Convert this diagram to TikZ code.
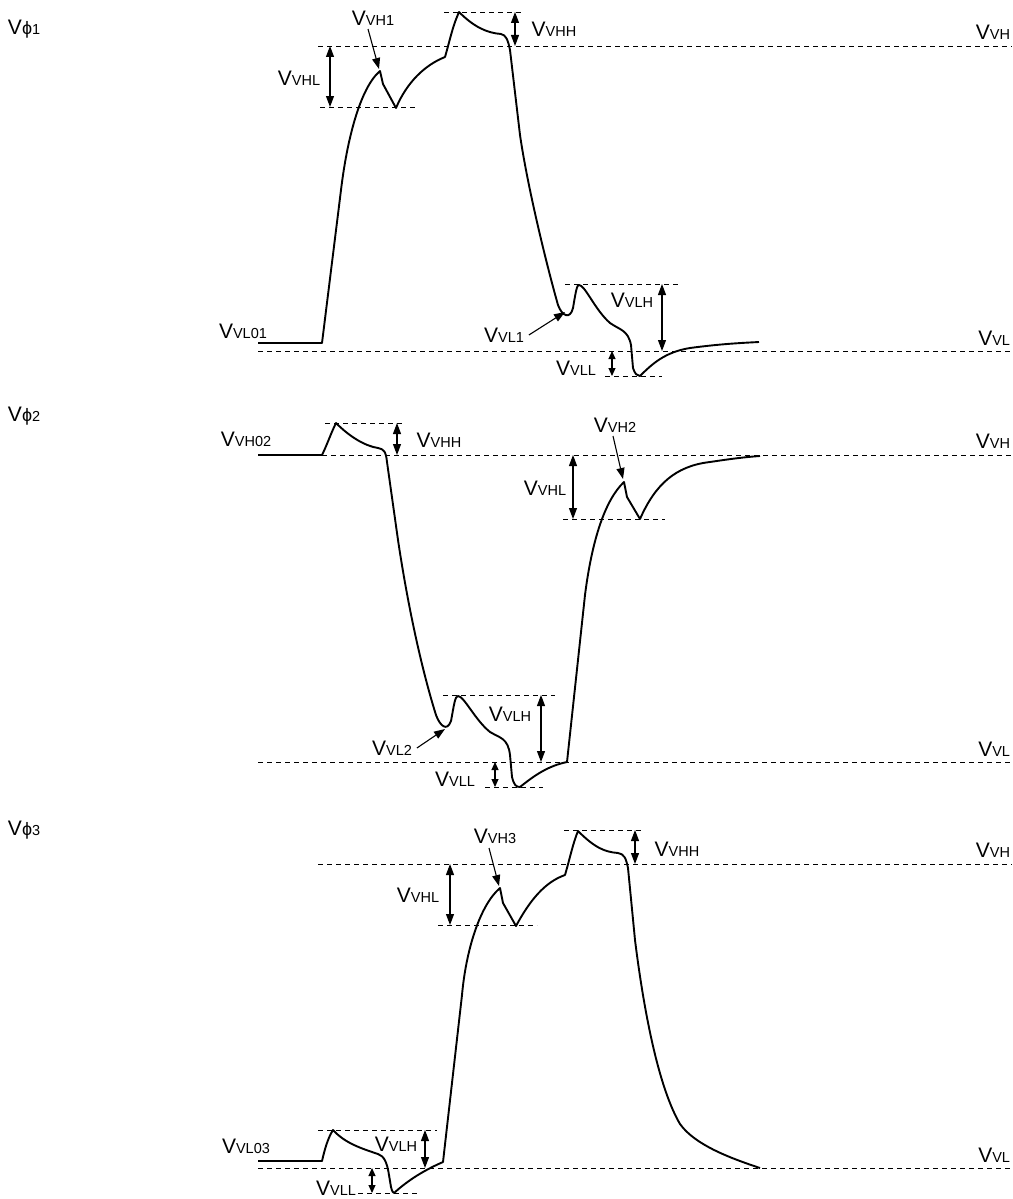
\documentclass[tikz,border=0pt]{standalone}
\usepackage{fontspec}
\setmainfont{Liberation Sans}
\usetikzlibrary{arrows.meta}
\newcommand{\vlab}[1]{{\fontsize{21}{21}\selectfont V}{\fontsize{14.5}{14.5}\selectfont #1}}
\newcommand{\vphi}[1]{{\fontsize{21}{21}\selectfont V}{\fontsize{18}{18}\selectfont ϕ}{\fontsize{14.5}{14.5}\selectfont #1}}

\begin{document}
\begin{tikzpicture}
[x=1pt,y=-1pt,%
  every node/.style={inner sep=0pt,outer sep=0pt},%
  wave/.style={line width=1.9pt,line join=round},%
  level/.style={line width=0.8pt,dash pattern=on 5pt off 4pt},%
  dim/.style={line width=1.1pt,{Triangle[length=11pt,width=8pt]}-{Triangle[length=11pt,width=8pt]}},%
  dimshort/.style={line width=1.1pt,{Triangle[length=8pt,width=7pt]}-{Triangle[length=8pt,width=7pt]}},%
  ptr/.style={line width=1.1pt,-{Triangle[length=11pt,width=8pt]}}]
\useasboundingbox (0,0) rectangle (1012,1199);

\node[anchor=west] (phi1) at (8,29) {\vphi{1}};
\draw[level] (318,46) -- (1012,46);
\draw[level] (444,12) -- (524,12);
\draw[level] (320,107) -- (417,107);
\draw[level] (258,351) -- (1012,351);
\draw[level] (565,284) -- (678,284);
\draw[level] (605,376) -- (662,376);
\draw[wave] (258,343) -- (322,343) -- (341,190)
  .. controls (347,140) and (360,88) .. (380,71) coordinate (pk1)
  -- (383,84) -- (396,108)
  .. controls (407,82) and (425,65) .. (445,57)
  .. controls (450,40) and (452,28) .. (459,12)
  .. controls (475,28) and (488,33) .. (501,34)
  .. controls (506,35) and (508,40) .. (510,50)
  -- (520,135) .. controls (528,190) and (548,270) .. (558,305)
  .. controls (562,316) and (570,320) .. (573,308) coordinate (vl1)
  .. controls (576,290) and (577,285) .. (579,285)
  .. controls (585,285) and (595,310) .. (610,323)
  .. controls (620,330) and (628,330) .. (631,345)
  -- (633,368) .. controls (635,374) and (637,376) .. (640,376)
  .. controls (652,364) and (665,352) .. (690,348)
  .. controls (720,344) and (740,343) .. (759,342);
\draw[dim] (330,46) -- (330,107);
\draw[dim] (515,12) -- (515,46);
\draw[dim] (662,284) -- (662,351);
\draw[dimshort] (612,351) -- (612,376);
\node (vhl1) at (299,78) {\vlab{VHL}};
\node (vh1) at (373,18) {\vlab{VH1}};
\node (vhh1) at (554,29) {\vlab{VHH}};
\node[anchor=east] (vh1r) at (1010,32) {\vlab{VH}};
\node (vl01) at (243,331) {\vlab{VL01}};
\node (vl1l) at (504,335) {\vlab{VL1}};
\node (vlh1) at (632,300) {\vlab{VLH}};
\node (vll1) at (576,368) {\vlab{VLL}};
\node[anchor=east] (vl1r) at (1010,338) {\vlab{VL}};
\draw[ptr] (368,29) -- ([xshift=-1pt,yshift=2pt]pk1);
\draw[ptr] ([xshift=5pt]vl1l.east) -- ([xshift=-8pt,yshift=-4pt]vl1);

\node[anchor=west] (phi2) at (8,416) {\vphi{2}};
\draw[level] (325,423) -- (403,423);
\draw[level] (322,455) -- (1012,455);
\draw[level] (563,519) -- (665,519);
\draw[level] (443,695) -- (555,695);
\draw[level] (258,762) -- (1012,762);
\draw[level] (485,787) -- (543,787);
\draw[wave] (258,455) -- (322,455) .. controls (327,445) and (331,433) .. (336,423)
  .. controls (350,437) and (365,446) .. (378,448)
  .. controls (384,449) and (386,452) .. (387,462)
  -- (398,540) .. controls (410,620) and (425,680) .. (436,715)
  .. controls (440,726) and (447,732) .. (451,721) coordinate (vl2)
  .. controls (454,705) and (455,696) .. (458,696)
  .. controls (464,696) and (475,720) .. (490,732)
  .. controls (500,738) and (508,738) .. (510,755)
  -- (512,777) .. controls (514,785) and (516,787) .. (520,787)
  .. controls (535,775) and (548,766) .. (567,762)
  -- (585,595) .. controls (592,540) and (605,500) .. (624,482) coordinate (pk2)
  -- (627,497) -- (640,519)
  .. controls (655,485) and (675,466) .. (710,462)
  .. controls (730,459) and (745,457) .. (760,456);
\draw[dim] (397,423) -- (397,455);
\draw[dim] (573,455) -- (573,519);
\draw[dim] (541,695) -- (541,762);
\draw[dimshort] (495,762) -- (495,787);
\node (vh02) at (246,439) {\vlab{VH02}};
\node (vhh2) at (439,440) {\vlab{VHH}};
\node (vh2) at (615,425) {\vlab{VH2}};
\node[anchor=east] (vh2r) at (1010,441) {\vlab{VH}};
\node (vhl2) at (545,488) {\vlab{VHL}};
\node (vlh2) at (510,714) {\vlab{VLH}};
\node (vl2l) at (392,748) {\vlab{VL2}};
\node (vll2) at (455,779) {\vlab{VLL}};
\node[anchor=east] (vl2r) at (1010,749) {\vlab{VL}};
\draw[ptr] (613,436) -- ([xshift=-1pt,yshift=3pt]pk2);
\draw[ptr] ([xshift=5pt]vl2l.east) -- ([xshift=-6pt,yshift=-8pt]vl2);

\node[anchor=west] (phi3) at (8,830) {\vphi{3}};
\draw[level] (564,830) -- (643,830);
\draw[level] (318,864) -- (1012,864);
\draw[level] (438,925) -- (537,925);
\draw[level] (318,1130) -- (437,1130);
\draw[level] (258,1168) -- (1012,1168);
\draw[level] (358,1193) -- (420,1193);
\draw[wave] (258,1161) -- (322,1161) .. controls (325,1148) and (328,1138) .. (333,1130)
  .. controls (345,1143) and (360,1148) .. (378,1154)
  .. controls (384,1156) and (387,1162) .. (389,1175)
  -- (391,1187) .. controls (392,1191) and (393,1193) .. (394,1193)
  .. controls (405,1183) and (420,1172) .. (443,1162)
  -- (462,995) .. controls (466,950) and (480,905) .. (500,888) coordinate (pk3)
  -- (503,903) -- (516,926)
  .. controls (530,900) and (545,882) .. (565,875)
  .. controls (570,858) and (573,843) .. (578,831)
  .. controls (595,848) and (605,852) .. (618,853)
  .. controls (624,854) and (626,858) .. (628,868)
  -- (635,940) .. controls (645,1020) and (660,1090) .. (680,1124)
  .. controls (695,1145) and (730,1158) .. (760,1168);
\draw[dim] (635,830) -- (635,864);
\draw[dim] (450,864) -- (450,925);
\draw[dim] (425,1130) -- (425,1168);
\draw[dimshort] (372,1168) -- (372,1193);
\node (vh3) at (495,836) {\vlab{VH3}};
\node (vhh3) at (677,849) {\vlab{VHH}};
\node[anchor=east] (vh3r) at (1010,850) {\vlab{VH}};
\node (vhl3) at (418,895) {\vlab{VHL}};
\node (vl03) at (246,1146) {\vlab{VL03}};
\node (vlh3) at (396,1144) {\vlab{VLH}};
\node (vll3) at (336,1188) {\vlab{VLL}};
\node[anchor=east] (vl3r) at (1010,1155) {\vlab{VL}};
\draw[ptr] (489,848) -- ([xshift=-1pt,yshift=2pt]pk3);
\end{tikzpicture}
\end{document}
